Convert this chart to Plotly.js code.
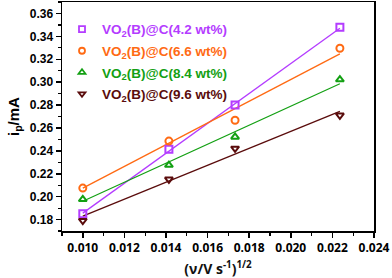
<!DOCTYPE html>
<html><head><meta charset="utf-8">
<script src="https://cdn.plot.ly/plotly-3.0.1.min.js"></script>
<style>html,body{margin:0;padding:0;background:#fff}#c{width:392px;height:278px}</style>
</head><body><div id="c"></div>
<script>
// square root of scan rate, (V/s)^1/2
const xVals = [0.0100, 0.01414, 0.01732, 0.02236];
const s42 = [0.185, 0.2415, 0.280, 0.348];
const s66 = [0.2075, 0.2485, 0.2667, 0.3296];
const s84 = [0.1977, 0.2276, 0.2522, 0.3023];
const s96 = [0.179, 0.2151, 0.2421, 0.271];
// linear fit lines, end values
const fitX = [0.0100, 0.02236];
const fit42 = [0.1856, 0.347];
const fit66 = [0.2075, 0.3247];
const fit84 = [0.196, 0.2986];
const fit96 = [0.183, 0.2745];
const names = ['VO<sub>2</sub>(B)@C(4.2 wt%)','VO<sub>2</sub>(B)@C(6.6 wt%)','VO<sub>2</sub>(B)@C(8.4 wt%)','VO<sub>2</sub>(B)@C(9.6 wt%)'];
const colors = ['#B43CFF','#FF6A13','#13A013','#5A0C0C'];
const symbols = ['square-open','circle-open','triangle-up-open','triangle-down-open'];
const series = [s42, s66, s84, s96];
const fits = [fit42, fit66, fit84, fit96];

const traces = [];
for (let i = 0; i < 4; i++) {
  traces.push({x: fitX, y: fits[i], mode: 'lines', line: {color: colors[i], width: 1.3},
    showlegend: false, hoverinfo: 'skip'});
}
for (let i = 0; i < 4; i++) {
  traces.push({x: xVals, y: series[i], mode: 'markers', showlegend: false,
    marker: {symbol: symbols[i], size: 7, color: colors[i], line: {width: 2, color: colors[i]}}});
}
// legend-only entries (no points) with smaller symbols, as in the reference
for (let i = 0; i < 4; i++) {
  traces.push({x: [null], y: [null], mode: 'markers', legendgroup: 'g'+i,
    name: '<span style="color:' + colors[i] + '">' + names[i] + '</span>',
    marker: {symbol: symbols[i], size: 6, color: colors[i], line: {width: 1.8, color: colors[i]}}});
}
const layout = {
  width: 392, height: 278,
  margin: {l: 62, r: 18, t: 2, b: 47},
  paper_bgcolor: '#fff', plot_bgcolor: '#fff',
  showlegend: true,
  legend: {x: 0.0, y: 0.948, xanchor: 'left', yanchor: 'top', bgcolor: 'rgba(0,0,0,0)',
    font: {family: 'Liberation Sans, Arial, sans-serif', size: 13.5, weight: 'bold'},
    tracegroupgap: 1, itemwidth: 30},
  xaxis: {range: [0.009, 0.024], tickvals: [0.010,0.012,0.014,0.016,0.018,0.020,0.022,0.024],
    ticktext: ['0.010','0.012','0.014','0.016','0.018','0.020','0.022','0.024'],
    ticks: 'outside', ticklen: 5, tickwidth: 1.5, tickcolor: '#000',
    minor: {dtick: 0.001, tick0: 0.009, ticks: 'outside', ticklen: 3, tickwidth: 1.2, tickcolor: '#000'},
    showline: true, linecolor: '#000', linewidth: 1.5, mirror: true, showgrid: false, zeroline: false,
    tickfont: {family: 'Open Sans, sans-serif', size: 12, weight: 'bold', color: '#000'},
    title: {text: '(ν/V s<sup>-1</sup>)<sup>1/2</sup>', standoff: 10,
      font: {family: 'Open Sans, sans-serif', size: 14, weight: 'bold', color: '#111'}}},
  yaxis: {range: [0.17, 0.37], tickvals: [0.18,0.20,0.22,0.24,0.26,0.28,0.30,0.32,0.34,0.36],
    ticktext: ['0.18','0.20','0.22','0.24','0.26','0.28','0.30','0.32','0.34','0.36'],
    ticks: 'outside', ticklen: 5, tickwidth: 1.5, tickcolor: '#000',
    minor: {dtick: 0.01, tick0: 0.17, ticks: 'outside', ticklen: 3, tickwidth: 1.2, tickcolor: '#000'},
    showline: true, linecolor: '#000', linewidth: 1.5, mirror: true, showgrid: false, zeroline: false,
    tickfont: {family: 'Liberation Sans, Arial, sans-serif', size: 12, weight: 'bold', color: '#000'},
    title: {text: 'i<sub>p</sub>/mA', standoff: 6,
      font: {family: 'Liberation Sans, Arial, sans-serif', size: 15, weight: 'bold', color: '#000'}}}
};
Plotly.newPlot('c', traces, layout, {staticPlot: true, displayModeBar: false});
</script></body></html>
